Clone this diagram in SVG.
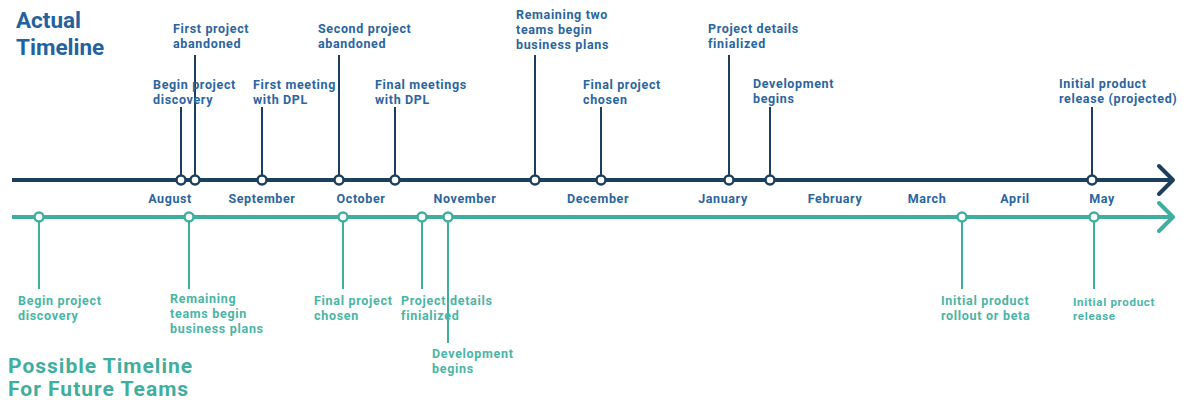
<svg xmlns="http://www.w3.org/2000/svg" width="1183" height="400" viewBox="0 0 1183 400">
  <style>
    text { font-family: Roboto, "Liberation Sans", sans-serif; font-weight: 700; }
    .title-a { fill: #24629d; font-size: 22.5px; }
    .title-p { fill: #3fae9e; font-size: 21px; letter-spacing: 1px; }
    .lbl-a { fill: #2b65a0; font-size: 12.5px; letter-spacing: 0.65px; }
    .lbl-p { fill: #4ab5a5; font-size: 12.5px; letter-spacing: 0.7px; }
    .lbl-p-sm { fill: #4ab5a5; font-size: 11.5px; letter-spacing: 0.7px; }
    .month { fill: #2b65a0; font-size: 12.5px; letter-spacing: 0.6px; text-anchor: middle; }
    .axis-a { stroke: #1d3f5f; stroke-width: 4; fill: none; }
    .axis-p { stroke: #3fae9e; stroke-width: 4; fill: none; }
    .stem-a { stroke: #1d3f5f; stroke-width: 2; }
    .stem-p { stroke: #3fae9e; stroke-width: 2; }
    .dot-a { fill: #fff; stroke: #1d3f5f; stroke-width: 2.5; }
    .dot-p { fill: #fff; stroke: #3fae9e; stroke-width: 2.5; }
  </style>

  <!-- Titles -->
  <text class="title-a" x="16" y="28">Actual</text>
  <text class="title-a" x="16" y="55">Timeline</text>
  <text class="title-p" x="8" y="373">Possible Timeline</text>
  <text class="title-p" x="8" y="396">For Future Teams</text>

  <!-- Axes and stems -->
  <g id="connectors">
    <line class="axis-a" x1="12" y1="180" x2="1171" y2="180"/>
    <polyline class="axis-a" points="1159,166 1173,180 1159,194" stroke-linecap="round" stroke-linejoin="round"/>
    <line class="axis-p" x1="12" y1="217" x2="1171" y2="217"/>
    <polyline class="axis-p" points="1159,203 1173,217 1159,231" stroke-linecap="round" stroke-linejoin="round"/>

    <!-- stems, actual -->
    <line class="stem-a" x1="181" y1="107" x2="181" y2="180"/>
    <line class="stem-a" x1="195" y1="55" x2="195" y2="180"/>
    <line class="stem-a" x1="262" y1="107" x2="262" y2="180"/>
    <line class="stem-a" x1="339" y1="55" x2="339" y2="180"/>
    <line class="stem-a" x1="395" y1="107" x2="395" y2="180"/>
    <line class="stem-a" x1="535" y1="55" x2="535" y2="180"/>
    <line class="stem-a" x1="601" y1="107" x2="601" y2="180"/>
    <line class="stem-a" x1="729" y1="55" x2="729" y2="180"/>
    <line class="stem-a" x1="770" y1="107" x2="770" y2="180"/>
    <line class="stem-a" x1="1092" y1="107" x2="1092" y2="180"/>

    <!-- stems, possible -->
    <line class="stem-p" x1="39" y1="217" x2="39" y2="289"/>
    <line class="stem-p" x1="189" y1="217" x2="189" y2="289"/>
    <line class="stem-p" x1="343" y1="217" x2="343" y2="289"/>
    <line class="stem-p" x1="422" y1="217" x2="422" y2="289"/>
    <line class="stem-p" x1="448" y1="217" x2="448" y2="343"/>
    <line class="stem-p" x1="962" y1="217" x2="962" y2="289"/>
    <line class="stem-p" x1="1094" y1="217" x2="1094" y2="289"/>
  </g>

  <!-- Months -->
  <g id="months">
    <text class="month" x="170" y="203">August</text>
    <text class="month" x="262" y="203">September</text>
    <text class="month" x="361" y="203">October</text>
    <text class="month" x="465" y="203">November</text>
    <text class="month" x="598" y="203">December</text>
    <text class="month" x="723" y="203">January</text>
    <text class="month" x="835" y="203">February</text>
    <text class="month" x="927" y="203">March</text>
    <text class="month" x="1015" y="203">April</text>
    <text class="month" x="1102" y="203">May</text>
  </g>

  <!-- Actual timeline events -->
  <g id="a-discovery"><circle class="dot-a" cx="181" cy="180" r="4.5"/><text class="lbl-a" x="153" y="89">Begin project</text><text class="lbl-a" x="153" y="104">discovery</text></g>
  <g id="a-abandon1"><circle class="dot-a" cx="195" cy="180" r="4.5"/><text class="lbl-a" x="173" y="33">First project</text><text class="lbl-a" x="173" y="48">abandoned</text></g>
  <g id="a-meeting1"><circle class="dot-a" cx="262" cy="180" r="4.5"/><text class="lbl-a" x="253" y="89">First meeting</text><text class="lbl-a" x="253" y="104">with DPL</text></g>
  <g id="a-abandon2"><circle class="dot-a" cx="339" cy="180" r="4.5"/><text class="lbl-a" x="318" y="33">Second project</text><text class="lbl-a" x="318" y="48">abandoned</text></g>
  <g id="a-meetings-final"><circle class="dot-a" cx="395" cy="180" r="4.5"/><text class="lbl-a" x="375" y="89">Final meetings</text><text class="lbl-a" x="375" y="104">with DPL</text></g>
  <g id="a-business"><circle class="dot-a" cx="535" cy="180" r="4.5"/><text class="lbl-a" x="516" y="19">Remaining two</text><text class="lbl-a" x="516" y="34">teams begin</text><text class="lbl-a" x="516" y="49">business plans</text></g>
  <g id="a-chosen"><circle class="dot-a" cx="601" cy="180" r="4.5"/><text class="lbl-a" x="583" y="89">Final project</text><text class="lbl-a" x="583" y="104">chosen</text></g>
  <g id="a-details"><circle class="dot-a" cx="729" cy="180" r="4.5"/><text class="lbl-a" x="708" y="33">Project details</text><text class="lbl-a" x="708" y="48">finialized</text></g>
  <g id="a-dev"><circle class="dot-a" cx="770" cy="180" r="4.5"/><text class="lbl-a" x="753" y="88">Development</text><text class="lbl-a" x="753" y="103">begins</text></g>
  <g id="a-release"><circle class="dot-a" cx="1092" cy="180" r="4.5"/><text class="lbl-a" x="1059" y="88">Initial product</text><text class="lbl-a" x="1059" y="103">release (projected)</text></g>

  <!-- Possible timeline events -->
  <g id="p-discovery"><circle class="dot-p" cx="39" cy="217" r="4.5"/><text class="lbl-p" x="18" y="305">Begin project</text><text class="lbl-p" x="18" y="320">discovery</text></g>
  <g id="p-business"><circle class="dot-p" cx="189" cy="217" r="4.5"/><text class="lbl-p" x="170" y="303">Remaining</text><text class="lbl-p" x="170" y="318">teams begin</text><text class="lbl-p" x="170" y="333">business plans</text></g>
  <g id="p-chosen"><circle class="dot-p" cx="343" cy="217" r="4.5"/><text class="lbl-p" x="314" y="305">Final project</text><text class="lbl-p" x="314" y="320">chosen</text></g>
  <g id="p-details"><circle class="dot-p" cx="422" cy="217" r="4.5"/><text class="lbl-p" x="401" y="305">Project details</text><text class="lbl-p" x="401" y="320">finialized</text></g>
  <g id="p-dev"><circle class="dot-p" cx="448" cy="217" r="4.5"/><text class="lbl-p" x="432" y="358">Development</text><text class="lbl-p" x="432" y="373">begins</text></g>
  <g id="p-beta"><circle class="dot-p" cx="962" cy="217" r="4.5"/><text class="lbl-p" x="941" y="305">Initial product</text><text class="lbl-p" x="941" y="320">rollout or beta</text></g>
  <g id="p-release"><circle class="dot-p" cx="1094" cy="217" r="4.5"/><text class="lbl-p-sm" x="1073" y="306">Initial product</text><text class="lbl-p-sm" x="1073" y="320">release</text></g>
</svg>
